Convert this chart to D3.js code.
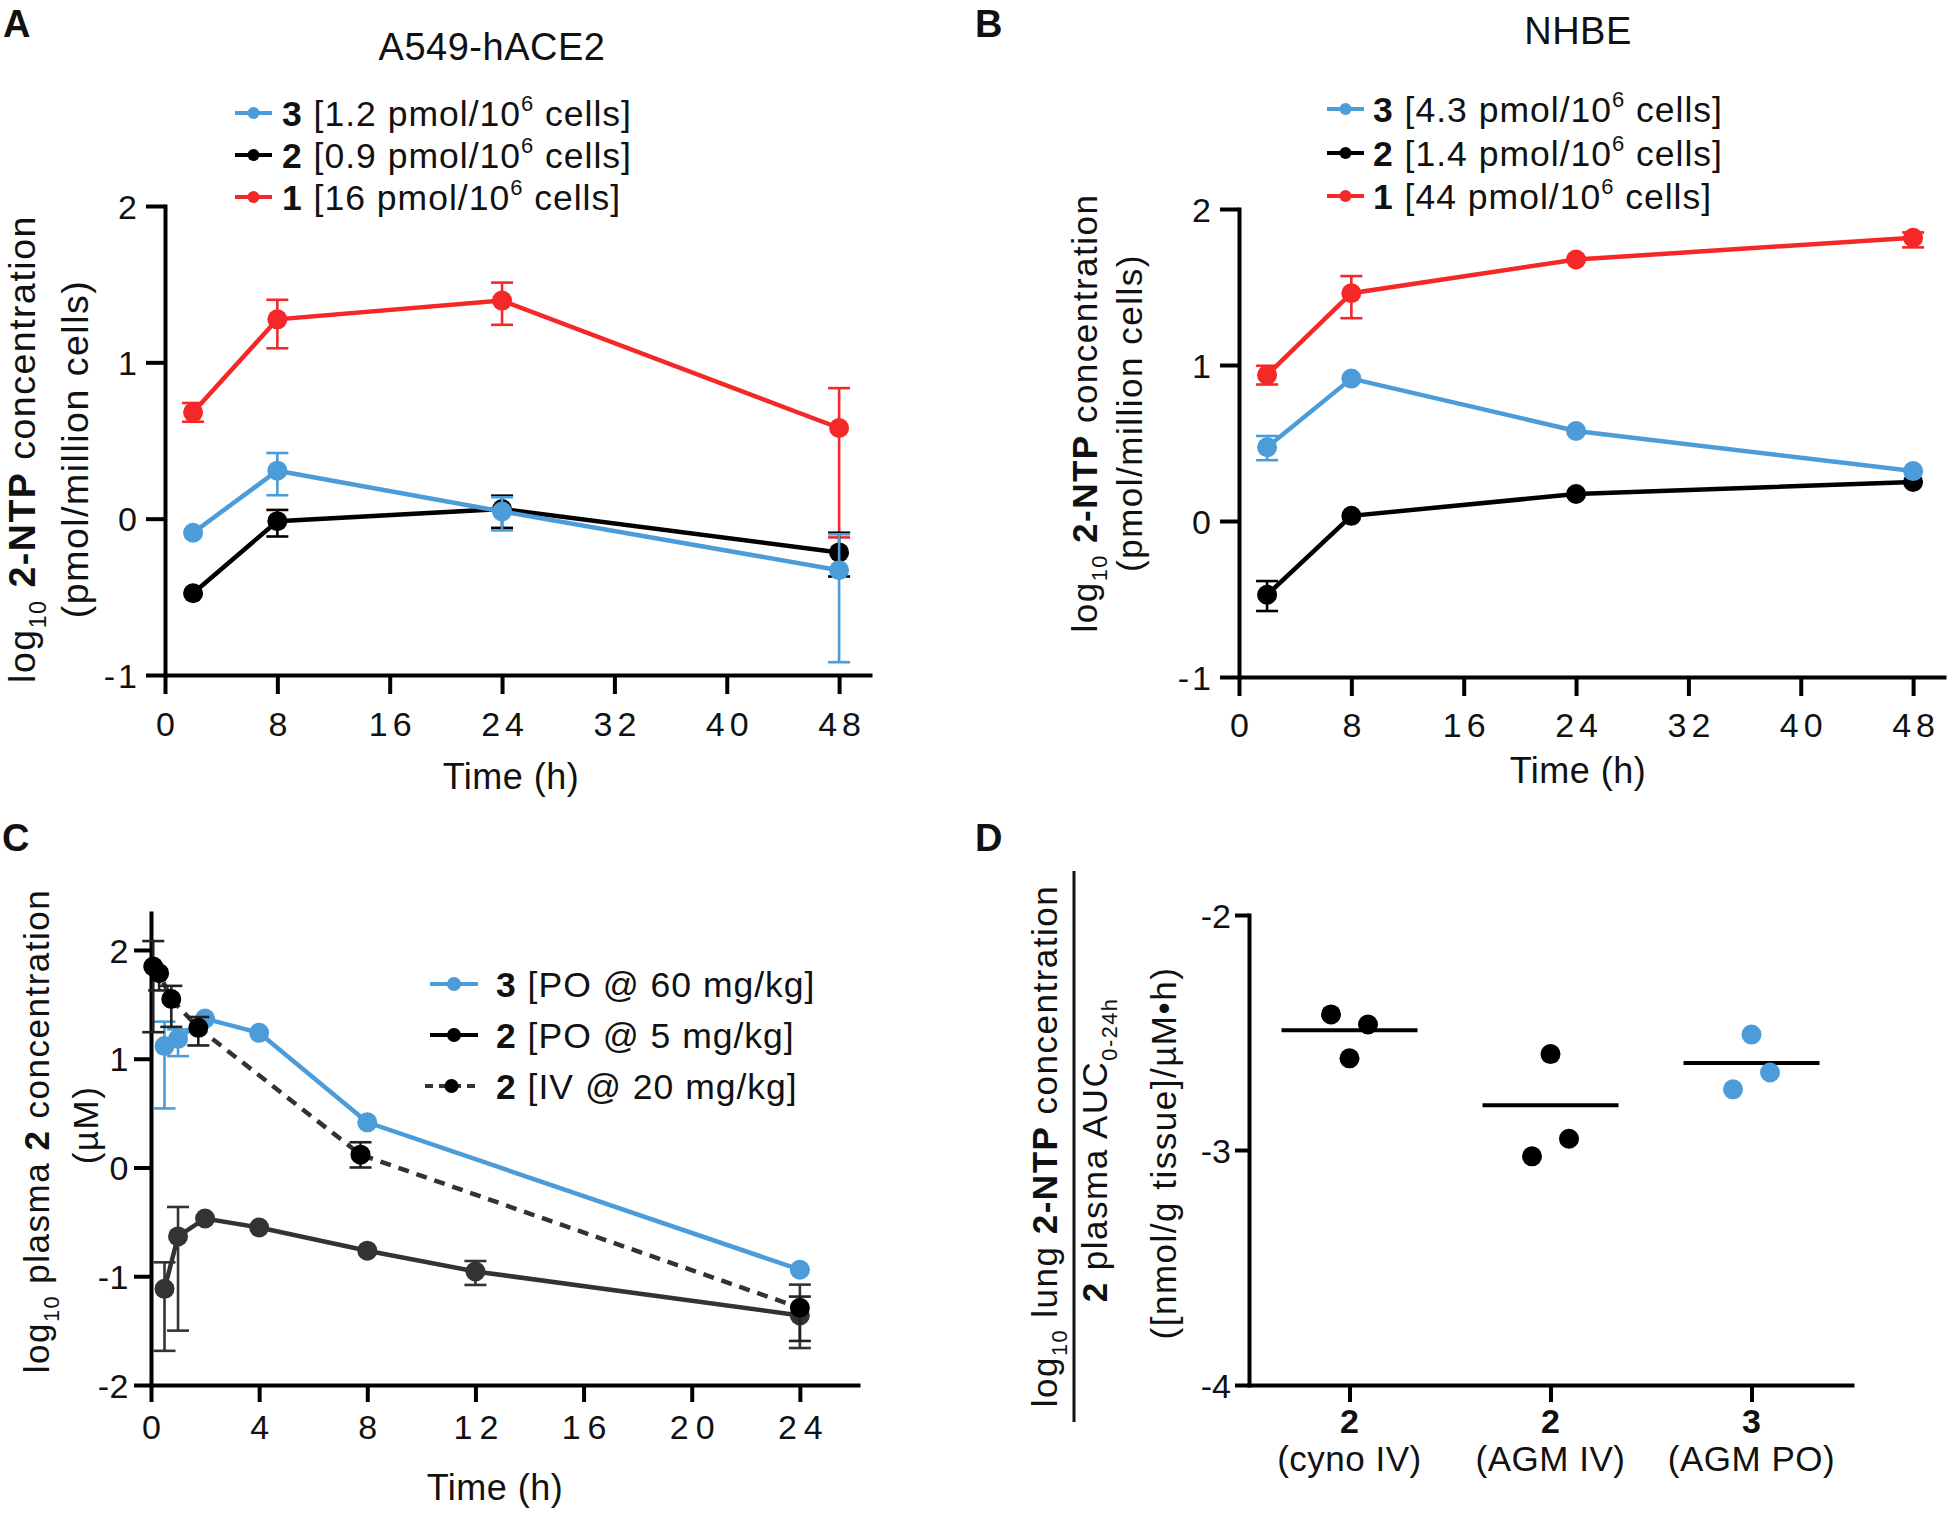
<!DOCTYPE html>
<html><head><meta charset="utf-8">
<script src="https://cdn.jsdelivr.net/npm/d3@7"></script>
<style>
body{margin:0;background:#fff}
svg text{font-family:"Liberation Sans",Arial,Helvetica,sans-serif;fill:#111}
</style></head><body>
<svg id="fig" width="1948" height="1513"></svg>
<script>
// ---------------- DATA ----------------
const timesAB = [2, 8, 24, 48];
const xTicksAB = [0, 8, 16, 24, 32, 40, 48];
const yTicksAB = [2, 1, 0, -1];
// Panel A (A549-hACE2)
const a3 = [-0.09, 0.307, 0.046, -0.33];
const a3Lo = [null, 0.15, -0.075, -0.918];
const a3Hi = [null, 0.42, 0.137, -0.10];
const a2 = [-0.477, -0.016, 0.062, -0.216];
const a2Lo = [null, -0.114, -0.059, -0.37];
const a2Hi = [null, 0.056, 0.147, -0.09];
const a1 = [0.68, 1.275, 1.395, 0.58];
const a1Lo = [0.62, 1.09, 1.24, -0.12];
const a1Hi = [0.74, 1.40, 1.51, 0.835];
const legendA = ["1.2", "0.9", "16"];
// Panel B (NHBE)
const b3 = [0.473, 0.913, 0.577, 0.32];
const b3Lo = [0.39, null, null, null];
const b3Hi = [0.545, null, null, null];
const b2 = [-0.473, 0.033, 0.173, 0.25];
const b2Lo = [-0.577, null, null, null];
const b2Hi = [-0.385, null, null, null];
const b1 = [0.936, 1.46, 1.676, 1.816];
const b1Lo = [0.875, 1.30, null, 1.754];
const b1Hi = [0.995, 1.57, null, 1.85];
const legendB = ["4.3", "1.4", "44"];
// Panel C (plasma)
const xTicksC = [0, 4, 8, 12, 16, 20, 24];
const yTicksC = [2, 1, 0, -1, -2];
const c3Time = [0.5, 1, 2, 4, 8, 24];
const c3 = [1.116, 1.183, 1.369, 1.238, 0.415, -0.94];
const c3Lo = [0.543, 1.024, null, null, null, null];
const c3Hi = [1.341, 1.27, null, null, null, null];
const c2poTime = [0.5, 1, 2, 4, 8, 12, 24];
const c2po = [-1.116, -0.634, -0.469, -0.552, -0.765, -0.956, -1.36];
const c2poLo = [-1.686, -1.50, null, null, null, -1.08, -1.66];
const c2poHi = [-0.872, -0.363, null, null, null, -0.86, -1.077];
const c2ivTime = [0.083, 0.3, 0.75, 1.75, 7.75, 24];
const c2iv = [1.848, 1.787, 1.549, 1.284, 0.118, -1.29];
const c2ivLo = [1.244, 1.628, 1.293, 1.122, 0.0, -1.595];
const c2ivHi = [2.082, null, 1.67, 1.384, 0.232, -1.187];
const legendC = [["3", "[PO @ 60 mg/kg]"], ["2", "[PO @ 5 mg/kg]"], ["2", "[IV @ 20 mg/kg]"]];
// Panel D (lung / plasma)
const yTicksD = [-2, -3, -4];
const dGroups = ["2", "2", "3"];
const dRoutes = ["(cyno IV)", "(AGM IV)", "(AGM PO)"];
const dValues = [[-2.423, -2.466, -2.61], [-2.592, -2.952, -3.027], [-2.509, -2.670, -2.742]];
const dJitter = [[-1, 1, 0], [0, 1, -1], [0, 1, -1]];
const dMeans = [-2.49, -2.81, -2.63];

// ---------------- STYLE ----------------
const RED = "#f52828", BLUE = "#4b9cd8", BLACK = "#000", GRAY = "#333";
const svg = d3.select("#fig");
svg.append("rect").attr("width", 1948).attr("height", 1513).attr("fill", "#fff");

function rich(g, x, y, parts, o = {}) {
  const fs = o.fs || 35.5;
  const t = g.append("text").attr("x", x).attr("y", y).attr("font-size", fs)
    .attr("letter-spacing", o.ls == null ? 1 : o.ls)
    .attr("text-anchor", o.anchor || "start");
  if (o.rotate) t.attr("transform", `rotate(-90,${x},${y})`);
  let shift = 0;
  parts.forEach(p => {
    if (typeof p === "string") p = {t: p};
    const s = t.append("tspan").text(p.t);
    const target = p.sup ? -0.42 * fs : p.sub ? 0.28 * fs : 0;
    if (target !== shift) { s.attr("dy", target - shift); shift = target; }
    if (p.sup || p.sub) s.attr("font-size", fs * 0.62);
    if (p.b) s.attr("font-weight", "bold");
  });
  return t;
}

function styleAxis(g, fs, ls) {
  g.select(".domain").attr("stroke", "#000").attr("stroke-width", 4).attr("stroke-linecap", "square");
  g.selectAll(".tick line").attr("stroke", "#000").attr("stroke-width", 4);
  g.selectAll(".tick text").attr("font-size", fs).attr("fill", "#111")
    .attr("font-family", '"Liberation Sans",Arial,sans-serif').attr("letter-spacing", ls);
}

function series(g, x, y, times, vals, lo, hi, color, opt = {}) {
  const line = d3.line().x((d, i) => x(times[i])).y(d => y(d));
  g.append("path").datum(vals).attr("d", line).attr("fill", "none")
    .attr("stroke", opt.lineColor || color).attr("stroke-width", 4.5)
    .attr("stroke-dasharray", opt.dash || null);
  const cap = 11;
  vals.forEach((v, i) => {
    const l = lo[i] == null ? v : lo[i], h = hi[i] == null ? v : hi[i];
    if (lo[i] == null && hi[i] == null) return;
    const cx = x(times[i]);
    const eg = g.append("g").attr("stroke", color).attr("stroke-width", 2.6);
    eg.append("line").attr("x1", cx).attr("x2", cx).attr("y1", y(l)).attr("y2", y(h));
    if (lo[i] != null) eg.append("line").attr("x1", cx - cap).attr("x2", cx + cap).attr("y1", y(l)).attr("y2", y(l));
    if (hi[i] != null) eg.append("line").attr("x1", cx - cap).attr("x2", cx + cap).attr("y1", y(h)).attr("y2", y(h));
  });
  g.selectAll(null).data(vals).enter().append("circle")
    .attr("cx", (d, i) => x(times[i])).attr("cy", d => y(d)).attr("r", 10)
    .attr("fill", opt.dotColor || color);
}

function legendItem(g, x1, x2, y, color, parts, o = {}) {
  g.append("line").attr("x1", x1).attr("x2", x2).attr("y1", y).attr("y2", y)
    .attr("stroke", color).attr("stroke-width", 4).attr("stroke-dasharray", o.dash || null);
  g.append("circle").attr("cx", (x1 + x2) / 2).attr("cy", y).attr("r", o.r || 6).attr("fill", o.dot || color);
  rich(g, o.tx, y + 12.5, parts);
}

// ---------------- PANELS A & B ----------------
function panelAB(cfg) {
  const g = svg.append("g");
  const x = d3.scaleLinear().domain([0, 50.2]).range([cfg.x0, cfg.xEnd]);
  const y = d3.scaleLinear().domain([-1, 2]).range([cfg.yBot, cfg.yTop]);
  const ax = g.append("g").attr("transform", `translate(0,${cfg.yBot})`)
    .call(d3.axisBottom(x).tickValues(xTicksAB).tickSize(19).tickSizeOuter(0).tickPadding(10).tickFormat(d => String(d)));
  styleAxis(ax, 34, 5);
  ax.selectAll(".tick text").attr("dx", 2.5).attr("dy", 0).attr("y", cfg.tickBase - cfg.yBot);
  const ay = g.append("g").attr("transform", `translate(${cfg.x0},0)`)
    .call(d3.axisLeft(y).tickValues(yTicksAB).tickSize(19).tickSizeOuter(0).tickPadding(6).tickFormat(d => String(d)));
  styleAxis(ay, 34, 3);
  ay.selectAll(".tick text").attr("dy", "0.36em");

  series(g, x, y, timesAB, cfg.s1, cfg.s1Lo, cfg.s1Hi, RED);
  series(g, x, y, timesAB, cfg.s2, cfg.s2Lo, cfg.s2Hi, BLACK);
  series(g, x, y, timesAB, cfg.s3, cfg.s3Lo, cfg.s3Hi, BLUE);

  const cols = [BLUE, BLACK, RED], nums = ["3", "2", "1"];
  cfg.legend.forEach((v, i) => {
    legendItem(g, cfg.lx1, cfg.lx2, cfg.ly[i], cols[i],
      [{t: nums[i], b: true}, " [" + v + " pmol/10", {t: "6", sup: true}, " cells]"], {tx: cfg.ltx});
  });
  g.append("text").attr("x", cfg.titleX).attr("y", cfg.titleY).attr("text-anchor", "middle")
    .attr("font-size", 38).attr("letter-spacing", 0.5).text(cfg.title);
  g.append("text").attr("x", cfg.xlabX).attr("y", cfg.xlabY).attr("text-anchor", "middle")
    .attr("font-size", 36).attr("letter-spacing", 0.5).text("Time (h)");
  rich(g, cfg.yl1, cfg.ylc, ["log", {t: "10", sub: true}, " ", {t: "2-NTP", b: true}, " concentration"],
    {rotate: true, anchor: "middle", fs: cfg.yfs, ls: 1.5});
  rich(g, cfg.yl2, cfg.ylc, ["(pmol/million cells)"], {rotate: true, anchor: "middle", fs: cfg.yfs, ls: 1.5});
  g.append("text").attr("x", cfg.letX).attr("y", 37).attr("font-size", 38).attr("font-weight", "bold").text(cfg.letter);
}

panelAB({letter: "A", letX: 3, x0: 165, xEnd: 870, yTop: 206, yBot: 675, tickBase: 736,
  s1: a1, s1Lo: a1Lo, s1Hi: a1Hi, s2: a2, s2Lo: a2Lo, s2Hi: a2Hi, s3: a3, s3Lo: a3Lo, s3Hi: a3Hi,
  legend: legendA, lx1: 235, lx2: 272, ltx: 282, ly: [113, 155, 197],
  title: "A549-hACE2", titleX: 492, titleY: 60, xlabX: 511, xlabY: 789,
  yl1: 35, yl2: 88, ylc: 449, yfs: 37.5});
panelAB({letter: "B", letX: 975, x0: 1239, xEnd: 1944, yTop: 209, yBot: 677, tickBase: 737,
  s1: b1, s1Lo: b1Lo, s1Hi: b1Hi, s2: b2, s2Lo: b2Lo, s2Hi: b2Hi, s3: b3, s3Lo: b3Lo, s3Hi: b3Hi,
  legend: legendB, lx1: 1327, lx2: 1364, ltx: 1373, ly: [109, 153, 196],
  title: "NHBE", titleX: 1578, titleY: 44, xlabX: 1578, xlabY: 783,
  yl1: 1097, yl2: 1142, ylc: 413, yfs: 35});

// ---------------- PANEL C ----------------
(function () {
  const g = svg.append("g");
  const x = d3.scaleLinear().domain([0, 26.15]).range([151, 858]);
  const y = d3.scaleLinear().domain([-2, 2.34]).range([1385, 913]);
  const ax = g.append("g").attr("transform", "translate(0,1385)")
    .call(d3.axisBottom(x).tickValues(xTicksC).tickSize(17).tickSizeOuter(0).tickFormat(d => String(d)));
  styleAxis(ax, 34, 7);
  ax.selectAll(".tick text").attr("dx", 3.5).attr("dy", 0).attr("y", 54);
  const ay = g.append("g").attr("transform", "translate(151,0)")
    .call(d3.axisLeft(y).tickValues(yTicksC).tickSize(17).tickSizeOuter(0).tickPadding(5).tickFormat(d => String(d)));
  styleAxis(ay, 34, 0.5);
  ay.selectAll(".tick text").attr("dy", "0.36em");

  series(g, x, y, c3Time, c3, c3Lo, c3Hi, BLUE);
  series(g, x, y, c2poTime, c2po, c2poLo, c2poHi, GRAY);
  series(g, x, y, c2ivTime, c2iv, c2ivLo, c2ivHi, "#222", {dash: "11,8", lineColor: "#333", dotColor: "#000"});

  const ly = [984, 1035, 1086];
  legendItem(g, 430, 478, ly[0], BLUE, [{t: legendC[0][0], b: true}, " " + legendC[0][1]], {tx: 496, r: 7});
  legendItem(g, 430, 478, ly[1], "#000", [{t: legendC[1][0], b: true}, " " + legendC[1][1]], {tx: 496, r: 7});
  legendItem(g, 425, 478, ly[2], "#333", [{t: legendC[2][0], b: true}, " " + legendC[2][1]], {tx: 496, r: 7, dash: "8,6", dot: "#000"});

  g.append("text").attr("x", 495).attr("y", 1500).attr("text-anchor", "middle")
    .attr("font-size", 36).attr("letter-spacing", 0.5).text("Time (h)");
  rich(g, 49, 1131, ["log", {t: "10", sub: true}, " plasma ", {t: "2", b: true}, " concentration"], {rotate: true, anchor: "middle", fs: 35, ls: 1.5});
  rich(g, 98, 1125, ["(µM)"], {rotate: true, anchor: "middle", fs: 35, ls: 1.5});
  g.append("text").attr("x", 2).attr("y", 851).attr("font-size", 38).attr("font-weight", "bold").text("C");
})();

// ---------------- PANEL D ----------------
(function () {
  const g = svg.append("g");
  const x = d3.scalePoint().domain(d3.range(dGroups.length)).range([1249, 1852]).padding(0.5);
  const y = d3.scaleLinear().domain([-4, -2]).range([1385, 915]);
  const ax = g.append("g").attr("transform", "translate(0,1385)")
    .call(d3.axisBottom(x).tickSize(17).tickSizeOuter(0).tickFormat(""));
  styleAxis(ax, 32, 0);
  const ay = g.append("g").attr("transform", "translate(1249,0)")
    .call(d3.axisLeft(y).tickValues(yTicksD).tickSize(14).tickSizeOuter(0).tickPadding(4).tickFormat(d => String(d)));
  styleAxis(ay, 34, 0);
  ay.selectAll(".tick text").attr("dy", "0.36em");

  const colors = [BLACK, BLACK, BLUE];
  dGroups.forEach((grp, i) => {
    const cx = x(i);
    g.append("text").attr("x", cx).attr("y", 1433).attr("text-anchor", "middle")
      .attr("font-size", 34).attr("font-weight", "bold").text(grp);
    g.append("text").attr("x", cx).attr("y", 1471).attr("text-anchor", "middle")
      .attr("font-size", 35).attr("letter-spacing", 0.5).text(dRoutes[i]);
    g.append("line").attr("x1", cx - 68).attr("x2", cx + 68).attr("y1", y(dMeans[i])).attr("y2", y(dMeans[i]))
      .attr("stroke", "#000").attr("stroke-width", 4);
    g.selectAll(null).data(dValues[i]).enter().append("circle")
      .attr("cx", (d, j) => cx + dJitter[i][j] * 18.5).attr("cy", d => y(d)).attr("r", 10)
      .attr("fill", colors[i]);
  });

  rich(g, 1057, 1146, ["log", {t: "10", sub: true}, " lung ", {t: "2-NTP", b: true}, " concentration"], {rotate: true, anchor: "middle", fs: 35, ls: 1.5});
  g.append("line").attr("x1", 1074).attr("x2", 1074).attr("y1", 871).attr("y2", 1422).attr("stroke", "#111").attr("stroke-width", 3);
  rich(g, 1107, 1150, [{t: "2", b: true}, " plasma AUC", {t: "0-24h", sub: true}], {rotate: true, anchor: "middle", fs: 35, ls: 1.5});
  rich(g, 1176, 1153, ["([nmol/g tissue]/µM•h)"], {rotate: true, anchor: "middle", fs: 35, ls: 1.5});
  g.append("text").attr("x", 975).attr("y", 851).attr("font-size", 38).attr("font-weight", "bold").text("D");
})();
</script>
</body></html>
